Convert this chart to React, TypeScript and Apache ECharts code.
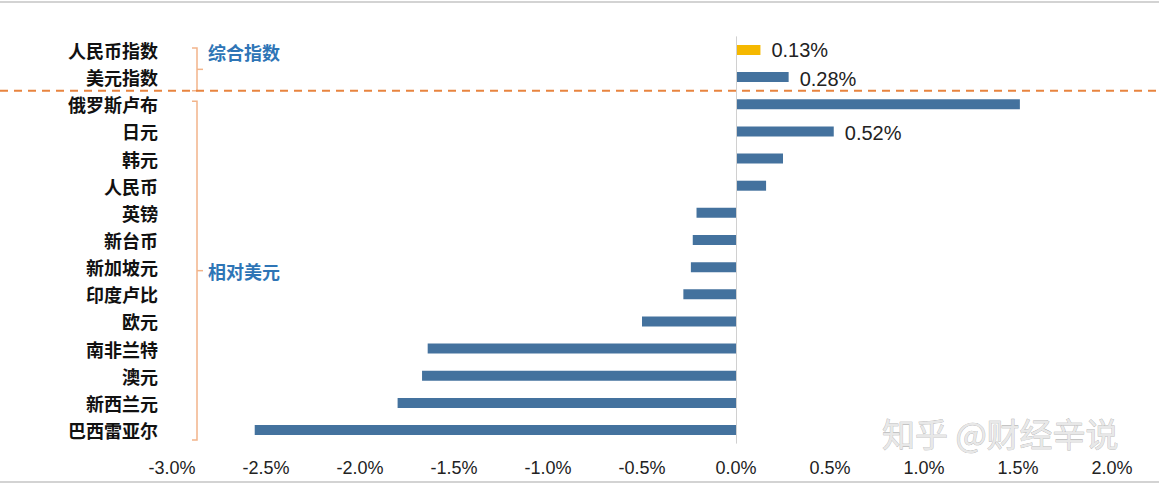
import React, { useEffect, useRef } from "react";
import * as echarts from "echarts";

const categories = [
  "人民币指数", "美元指数", "俄罗斯卢布", "日元", "韩元", "人民币", "英镑", "新台币",
  "新加坡元", "印度卢比", "欧元", "南非兰特", "澳元", "新西兰元", "巴西雷亚尔",
];
const values = [0.13, 0.28, 1.51, 0.52, 0.25, 0.16, -0.21, -0.23, -0.24, -0.28, -0.5, -1.64, -1.67, -1.8, -2.56];
const labeledIdx = [0, 1, 3];
const groupNames = ["综合指数", "相对美元"];
const xTicks = { min: -3, max: 2, interval: 0.5 };
const watermark = "知乎 @财经辛说";

export default function App() {
  const ref = useRef<HTMLDivElement>(null);
  useEffect(() => {
    document.body.style.margin = "0";
    const chart = echarts.init(ref.current!, null, { renderer: "svg" });
    const data = values.map((v, i) => ({
      value: v,
      itemStyle: { color: i === 0 ? "#F5B800" : "#44729E" },
      label: {
        show: labeledIdx.includes(i),
        position: "right",
        distance: 11,
        offset: i === 0 ? [0, 0] : [0, 2],
        formatter: (p: any) => p.value.toFixed(2) + "%",
        fontFamily: "Liberation Sans, Arial, sans-serif",
        fontSize: 20,
        color: "#222",
      },
    }));
    chart.setOption({
      animation: false,
      grid: { left: 172, right: 47, top: 36.4, bottom: 40.4 },
      xAxis: {
        type: "value",
        min: xTicks.min,
        max: xTicks.max,
        interval: xTicks.interval,
        axisLine: { show: false },
        axisTick: { show: false },
        splitLine: { show: false },
        axisLabel: {
          margin: 15,
          fontFamily: "Liberation Sans, Arial, sans-serif",
          fontSize: 18,
          lineHeight: 18,
          color: "#222",
          formatter: (v: number) => v.toFixed(1) + "%",
        },
      },
      yAxis: {
        type: "category",
        data: categories,
        inverse: true,
        axisLine: { show: false },
        axisTick: { show: false },
        axisLabel: {
          margin: 14,
          fontFamily: "Noto Sans CJK SC",
          fontWeight: "bold",
          fontSize: 18,
          color: "#111",
        },
      },
      series: [
        {
          type: "bar",
          data,
          barWidth: 10,
          markLine: {
            silent: true,
            symbol: "none",
            label: { show: false },
            lineStyle: { color: "#d0d0d0", type: "solid", width: 1 },
            data: [{ xAxis: 0 }],
          },
        },
      ],
    });

    const y = (i: number) => chart.convertToPixel({ yAxisIndex: 0 }, categories[i]) as number;
    const band = y(1) - y(0);
    const sepY = (y(1) + y(2)) / 2;
    const bx0 = 192, bx1 = 197, btip = 203;
    const bracket = (top: number, bottom: number) => {
      const mid = (top + bottom) / 2;
      return [
        { type: "polyline", shape: { points: [[bx0, top], [bx1, top], [bx1, bottom], [bx0, bottom]] }, style: { stroke: "#F2B48A", lineWidth: 1.5, fill: "none" } },
        { type: "line", shape: { x1: bx1, y1: mid, x2: btip, y2: mid }, style: { stroke: "#F2B48A", lineWidth: 1.5 } },
      ];
    };
    const b1Top = y(0) - 2, b1Bot = sepY;
    const b2Top = y(2) - 3, b2Bot = y(categories.length - 1) + band * 0.37;
    const textStyle = { fontFamily: "Noto Sans CJK SC", fontWeight: "bold", fontSize: 18, fill: "#2E75B6", verticalAlign: "middle" };
    chart.setOption({
      graphic: [
        { type: "line", shape: { x1: 0, y1: 2, x2: 1159, y2: 2 }, style: { stroke: "#c4c4c4", lineWidth: 1.5 } },
        { type: "line", shape: { x1: 0, y1: 482, x2: 1159, y2: 482 }, style: { stroke: "#c4c4c4", lineWidth: 1.5 } },
        ...bracket(b1Top, b1Bot),
        ...bracket(b2Top, b2Bot),
        { type: "line", shape: { x1: 0, y1: sepY, x2: 1159, y2: sepY }, style: { stroke: "#E8843F", lineWidth: 2, lineDash: [8, 6] } },
        { type: "text", x: 208, y: y(0) + 2, style: { ...textStyle, text: groupNames[0] } },
        { type: "text", x: 208, y: (b2Top + b2Bot) / 2, style: { ...textStyle, text: groupNames[1] } },
        { type: "text", x: 882, y: 433, style: { text: watermark, fontFamily: "Noto Sans CJK SC", fontSize: 33, lineHeight: 30, fill: "#e8e8e8", stroke: "#a8a8a8", lineWidth: 0.6, verticalAlign: "middle" } },
      ],
    });
    return () => chart.dispose();
  }, []);
  return <div ref={ref} style={{ width: 1159, height: 484 }} />;
}
